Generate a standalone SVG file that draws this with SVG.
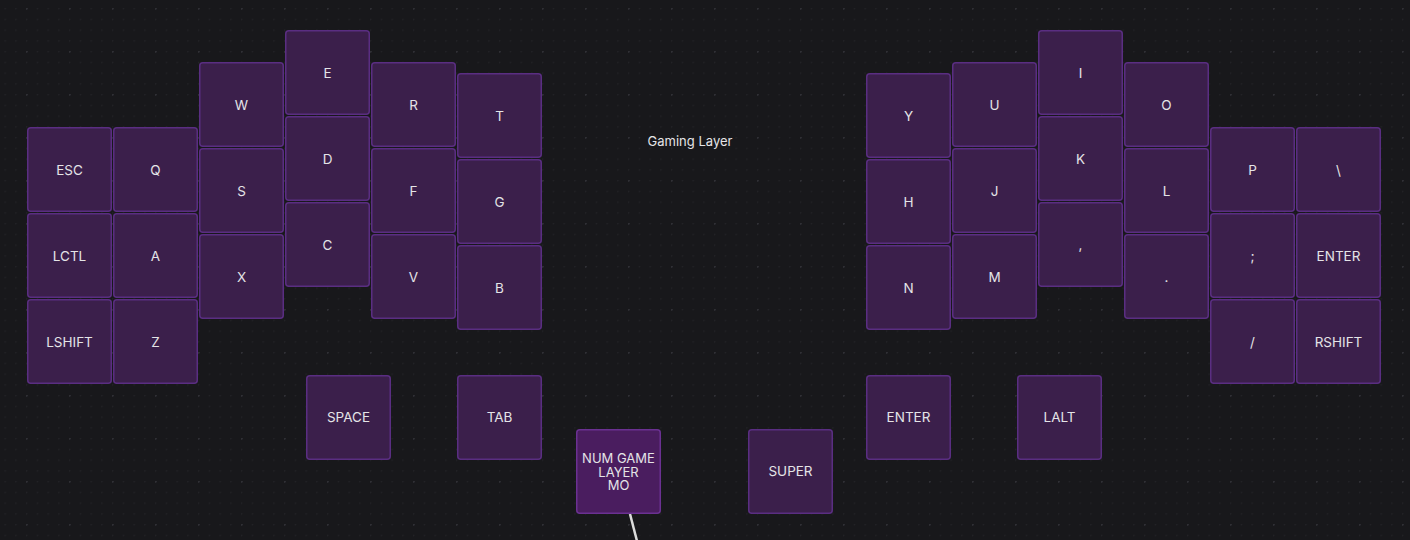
<svg xmlns="http://www.w3.org/2000/svg" width="1410" height="540" viewBox="0 0 1410 540">
<style>
.k rect{fill:#3b1f4b;stroke:#5a2e82;stroke-width:1.5}
.k.hl rect{fill:#4a1d5f;stroke:#6b3192}
.k text,.title{font-family:Inter,"Liberation Sans",sans-serif;font-size:13.5px;fill:#e4e4e7;text-anchor:middle;dominant-baseline:central}
.title{font-size:13px}
.k.hl text{font-size:13px}
</style>
<defs>
<pattern id="minor" x="26" y="8" width="10.75" height="10.75" patternUnits="userSpaceOnUse"><circle cx="0.6" cy="0.6" r="0.8" fill="#242428"/></pattern>
<pattern id="major" x="26" y="8" width="43" height="43" patternUnits="userSpaceOnUse"><circle cx="0.6" cy="0.6" r="1.2" fill="#303035"/></pattern>
</defs>
<rect width="1410" height="540" fill="#18181b"/>
<rect width="1410" height="540" fill="url(#minor)"/>
<rect width="1410" height="540" fill="url(#major)"/>
<g id="connectors"><line x1="630" y1="514" x2="637" y2="541" stroke="#dcdcdc" stroke-width="2.5"/></g>
<text class="title" x="690" y="141">Gaming Layer</text>
<g id="k-esc" class="k"><rect x="27.75" y="127.75" width="83.5" height="83.5" rx="3"/><text x="69.5" y="170">ESC</text></g>
<g id="k-lctl" class="k"><rect x="27.75" y="213.75" width="83.5" height="83.5" rx="3"/><text x="69.5" y="256">LCTL</text></g>
<g id="k-lshift" class="k"><rect x="27.75" y="299.75" width="83.5" height="83.5" rx="3"/><text x="69.5" y="342">LSHIFT</text></g>
<g id="k-q" class="k"><rect x="113.75" y="127.75" width="83.5" height="83.5" rx="3"/><text x="155.5" y="170">Q</text></g>
<g id="k-a" class="k"><rect x="113.75" y="213.75" width="83.5" height="83.5" rx="3"/><text x="155.5" y="256">A</text></g>
<g id="k-z" class="k"><rect x="113.75" y="299.75" width="83.5" height="83.5" rx="3"/><text x="155.5" y="342">Z</text></g>
<g id="k-w" class="k"><rect x="199.75" y="62.75" width="83.5" height="83.5" rx="3"/><text x="241.5" y="105">W</text></g>
<g id="k-s" class="k"><rect x="199.75" y="148.75" width="83.5" height="83.5" rx="3"/><text x="241.5" y="191">S</text></g>
<g id="k-x" class="k"><rect x="199.75" y="234.75" width="83.5" height="83.5" rx="3"/><text x="241.5" y="277">X</text></g>
<g id="k-e" class="k"><rect x="285.75" y="30.75" width="83.5" height="83.5" rx="3"/><text x="327.5" y="73">E</text></g>
<g id="k-d" class="k"><rect x="285.75" y="116.75" width="83.5" height="83.5" rx="3"/><text x="327.5" y="159">D</text></g>
<g id="k-c" class="k"><rect x="285.75" y="202.75" width="83.5" height="83.5" rx="3"/><text x="327.5" y="245">C</text></g>
<g id="k-r" class="k"><rect x="371.75" y="62.75" width="83.5" height="83.5" rx="3"/><text x="413.5" y="105">R</text></g>
<g id="k-f" class="k"><rect x="371.75" y="148.75" width="83.5" height="83.5" rx="3"/><text x="413.5" y="191">F</text></g>
<g id="k-v" class="k"><rect x="371.75" y="234.75" width="83.5" height="83.5" rx="3"/><text x="413.5" y="277">V</text></g>
<g id="k-t" class="k"><rect x="457.75" y="73.75" width="83.5" height="83.5" rx="3"/><text x="499.5" y="116">T</text></g>
<g id="k-g" class="k"><rect x="457.75" y="159.75" width="83.5" height="83.5" rx="3"/><text x="499.5" y="202">G</text></g>
<g id="k-b" class="k"><rect x="457.75" y="245.75" width="83.5" height="83.5" rx="3"/><text x="499.5" y="288">B</text></g>
<g id="k-y" class="k"><rect x="866.75" y="73.75" width="83.5" height="83.5" rx="3"/><text x="908.5" y="116">Y</text></g>
<g id="k-h" class="k"><rect x="866.75" y="159.75" width="83.5" height="83.5" rx="3"/><text x="908.5" y="202">H</text></g>
<g id="k-n" class="k"><rect x="866.75" y="245.75" width="83.5" height="83.5" rx="3"/><text x="908.5" y="288">N</text></g>
<g id="k-u" class="k"><rect x="952.75" y="62.75" width="83.5" height="83.5" rx="3"/><text x="994.5" y="105">U</text></g>
<g id="k-j" class="k"><rect x="952.75" y="148.75" width="83.5" height="83.5" rx="3"/><text x="994.5" y="191">J</text></g>
<g id="k-m" class="k"><rect x="952.75" y="234.75" width="83.5" height="83.5" rx="3"/><text x="994.5" y="277">M</text></g>
<g id="k-i" class="k"><rect x="1038.75" y="30.75" width="83.5" height="83.5" rx="3"/><text x="1080.5" y="73">I</text></g>
<g id="k-k" class="k"><rect x="1038.75" y="116.75" width="83.5" height="83.5" rx="3"/><text x="1080.5" y="159">K</text></g>
<g id="k-comma" class="k"><rect x="1038.75" y="202.75" width="83.5" height="83.5" rx="3"/><text x="1080.5" y="245">,</text></g>
<g id="k-o" class="k"><rect x="1124.75" y="62.75" width="83.5" height="83.5" rx="3"/><text x="1166.5" y="105">O</text></g>
<g id="k-l" class="k"><rect x="1124.75" y="148.75" width="83.5" height="83.5" rx="3"/><text x="1166.5" y="191">L</text></g>
<g id="k-dot" class="k"><rect x="1124.75" y="234.75" width="83.5" height="83.5" rx="3"/><text x="1166.5" y="277">.</text></g>
<g id="k-p" class="k"><rect x="1210.75" y="127.75" width="83.5" height="83.5" rx="3"/><text x="1252.5" y="170">P</text></g>
<g id="k-semi" class="k"><rect x="1210.75" y="213.75" width="83.5" height="83.5" rx="3"/><text x="1252.5" y="256">;</text></g>
<g id="k-slash" class="k"><rect x="1210.75" y="299.75" width="83.5" height="83.5" rx="3"/><text x="1252.5" y="342">/</text></g>
<g id="k-bslash" class="k"><rect x="1296.75" y="127.75" width="83.5" height="83.5" rx="3"/><text x="1338.5" y="170">\</text></g>
<g id="k-enter-r" class="k"><rect x="1296.75" y="213.75" width="83.5" height="83.5" rx="3"/><text x="1338.5" y="256">ENTER</text></g>
<g id="k-rshift" class="k"><rect x="1296.75" y="299.75" width="83.5" height="83.5" rx="3"/><text x="1338.5" y="342">RSHIFT</text></g>
<g id="k-space" class="k"><rect x="306.75" y="375.75" width="83.5" height="83.5" rx="3"/><text x="348.5" y="417">SPACE</text></g>
<g id="k-tab" class="k"><rect x="457.75" y="375.75" width="83.5" height="83.5" rx="3"/><text x="499.5" y="417">TAB</text></g>
<g id="k-numgame" class="k hl"><rect x="576.75" y="429.75" width="83.5" height="83.5" rx="3"/><text x="618.5" y="458">NUM GAME</text><text x="618.5" y="471.5">LAYER</text><text x="618.5" y="485">MO</text></g>
<g id="k-super" class="k"><rect x="748.75" y="429.75" width="83.5" height="83.5" rx="3"/><text x="790.5" y="471">SUPER</text></g>
<g id="k-enter" class="k"><rect x="866.75" y="375.75" width="83.5" height="83.5" rx="3"/><text x="908.5" y="417">ENTER</text></g>
<g id="k-lalt" class="k"><rect x="1017.75" y="375.75" width="83.5" height="83.5" rx="3"/><text x="1059.5" y="417">LALT</text></g>
</svg>
